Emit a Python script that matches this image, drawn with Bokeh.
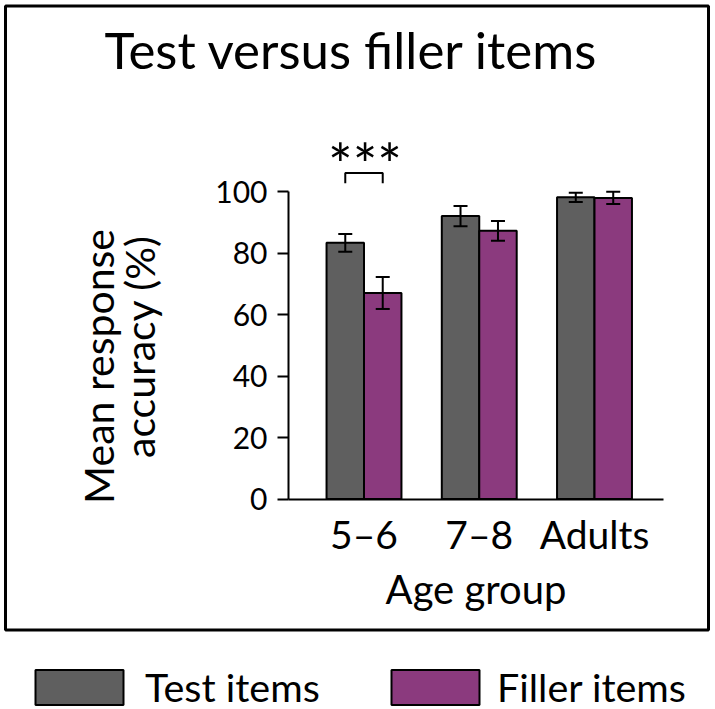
import math
from bokeh.plotting import figure
from bokeh.models import (ColumnDataSource, Whisker, TeeHead, Label, BoxAnnotation,
                          Legend, LegendItem, FixedTicker)
from bokeh.embed import file_html
from bokeh.resources import INLINE

# ---- data ----
groups = ["5–6", "7–8", "Adults"]
group_pos = [1, 2, 3]
test_mean = [83.3, 92.0, 98.1]
test_err = [2.9, 3.3, 1.5]
filler_mean = [67.0, 87.2, 97.9]
filler_err = [5.2, 3.2, 2.0]
y_ticks = [0, 20, 40, 60, 80, 100]
series_names = ["Test items", "Filler items"]
colors = ["#5f5f5f", "#8b3a7e"]
title_text = "Test versus filler items"
ylabel_lines = ["Mean response", "accuracy (%)"]
xlabel_text = "Age group"
sig_text = "***"

FONT = "Lato"

# ---- layout: the data frame covers the whole canvas ----
W, H = 715, 709
PX_PER_X = 115.25      # pixels per group step
PX_PER_Y = 3.075       # pixels per percentage point
X_ORIGIN_PX = 363.5    # pixel column of the first group
Y_ZERO_PX = 498.5      # pixel row of 0 %
XS = group_pos[0] - X_ORIGIN_PX / PX_PER_X
XE = XS + W / PX_PER_X
YE = Y_ZERO_PX / PX_PER_Y
YS = YE - H / PX_PER_Y
BW = 0.325


def dx(px):
    return XS + px / PX_PER_X


def dy(py):
    return YE - py / PX_PER_Y


AX_LEFT = dx(288)
AX_RIGHT = dx(663)

p = figure(width=W, height=H, x_range=(XS, XE), y_range=(YS, YE),
           output_backend="svg", toolbar_location=None,
           min_border=0, min_border_left=0, min_border_right=0,
           min_border_top=0, min_border_bottom=0)
p.outline_line_color = None
p.grid.visible = False
p.background_fill_color = "white"
p.border_fill_color = "white"

src = ColumnDataSource(dict(
    x=group_pos,
    xt=[g - BW / 2 for g in group_pos],
    xf=[g + BW / 2 for g in group_pos],
    test=test_mean,
    filler=filler_mean,
    t_up=[m + e for m, e in zip(test_mean, test_err)],
    t_lo=[m - e for m, e in zip(test_mean, test_err)],
    f_up=[m + e for m, e in zip(filler_mean, filler_err)],
    f_lo=[m - e for m, e in zip(filler_mean, filler_err)],
))

r1 = p.vbar(x="xt", top="test", bottom=0, width=BW, source=src, fill_color=colors[0],
            line_color="black", line_width=2)
r2 = p.vbar(x="xf", top="filler", bottom=0, width=BW, source=src, fill_color=colors[1],
            line_color="black", line_width=2)

for base, up, lo in (("xt", "t_up", "t_lo"), ("xf", "f_up", "f_lo")):
    w = Whisker(source=src, base=base, upper=up, lower=lo, dimension="height",
                line_color="black", line_width=2, level="annotation",
                upper_head=TeeHead(size=14, line_width=2, line_color="black"),
                lower_head=TeeHead(size=14, line_width=2, line_color="black"))
    p.add_layout(w)

# significance bracket between the two bars of the first group
g0 = group_pos[0]
p.line(x=[g0 - BW / 2, g0 - BW / 2, g0 + BW / 2, g0 + BW / 2],
       y=[102.7, 106.0, 106.0, 102.7], line_color="black", line_width=2)
p.add_layout(Label(x=dx(364.5), y=dy(163), text=sig_text, text_align="center",
                   text_baseline="alphabetic", text_font=FONT,
                   text_font_size="58px", text_color="black"))

# axes, fixed inside the frame
p.yaxis.fixed_location = AX_LEFT
p.xaxis.fixed_location = 0
p.yaxis.ticker = FixedTicker(ticks=y_ticks)
p.yaxis.bounds = (0, 100)
p.yaxis.axis_line_width = 2
p.yaxis.major_tick_line_width = 2
p.yaxis.major_tick_out = 11
p.yaxis.major_tick_in = 0
p.yaxis.minor_tick_line_color = None
p.yaxis.major_label_text_font = FONT
p.yaxis.major_label_text_font_size = "30px"
p.yaxis.major_label_text_color = "black"
p.yaxis.major_label_standoff = 10

p.xaxis.ticker = FixedTicker(ticks=group_pos)
p.xaxis.bounds = (AX_LEFT, AX_RIGHT)
p.xaxis.major_label_overrides = {g: lab for g, lab in zip(group_pos, groups)}
p.xaxis.axis_line_width = 2
p.xaxis.major_tick_line_color = None
p.xaxis.minor_tick_line_color = None
p.xaxis.major_tick_out = 0
p.xaxis.major_tick_in = 0
p.xaxis.major_label_text_font = FONT
p.xaxis.major_label_text_font_size = "39px"
p.xaxis.major_label_text_color = "black"
p.xaxis.major_label_standoff = 12
p.xaxis.axis_label = xlabel_text
p.xaxis.axis_label_text_font = FONT
p.xaxis.axis_label_text_font_size = "40px"
p.xaxis.axis_label_text_font_style = "normal"
p.xaxis.axis_label_text_color = "black"
p.xaxis.axis_label_standoff = 4

# title
p.add_layout(Label(x=dx(351), y=dy(49), text=title_text, text_align="center",
                   text_baseline="alphabetic", text_font=FONT,
                   text_font_size="51px", text_color="black"))

# y label (two lines)
p.add_layout(Label(x=dx(98), y=dy(366), text=ylabel_lines[0], angle=math.pi / 2,
                   text_align="center", text_baseline="alphabetic", text_font=FONT,
                   text_font_size="41px", text_color="black"))
p.add_layout(Label(x=dx(139), y=dy(346), text=ylabel_lines[1], angle=math.pi / 2,
                   text_align="center", text_baseline="alphabetic", text_font=FONT,
                   text_font_size="41px", text_color="black"))

# outer frame box
p.add_layout(BoxAnnotation(left=dx(5), right=dx(708), top=dy(5.5), bottom=dy(629.5),
                           fill_alpha=0, line_color="black", line_alpha=1.0,
                           line_width=3, level="overlay"))

# legends (one per series, placed under the box); the legend swatch is inset by 10 %
for r, name, gx, stand in ((r1, series_names[0], 24, 11), (r2, series_names[1], 380, 7)):
    leg = Legend(items=[LegendItem(label=name, renderers=[r])],
                 location=(gx, H - 666 - 44), orientation="horizontal",
                 glyph_width=110, glyph_height=44, label_height=44, label_standoff=stand,
                 label_text_font=FONT, label_text_font_size="39.5px",
                 label_text_color="black", padding=0, margin=0, spacing=0,
                 border_line_color=None, background_fill_alpha=0)
    p.add_layout(leg)

open("out.html", "w").write(file_html(p, INLINE))
